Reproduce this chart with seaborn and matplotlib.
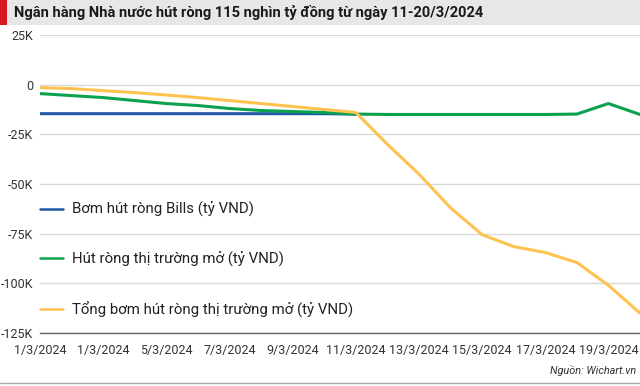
import numpy as np
import pandas as pd
import matplotlib
matplotlib.use('Agg')
import matplotlib.pyplot as plt
import seaborn as sns

# Data (ty VND); Bills series stops at 11/3
days = list(range(20))
tick_labels = ['1/3/2024', '1/3/2024', '5/3/2024', '7/3/2024', '9/3/2024',
               '11/3/2024', '13/3/2024', '15/3/2024', '17/3/2024', '19/3/2024']
bills = [-14600, -14600, -14600, -14600, -14600, -14600, -14600, -14600, -14600, -14600,
         -14800, np.nan, np.nan, np.nan, np.nan, np.nan, np.nan, np.nan, np.nan, np.nan]
open_market = [-4500, -5500, -6500, -8000, -9500, -10500, -12000, -13000, -13500, -14000,
               -14800, -15000, -15000, -15000, -15000, -15000, -15000, -14800, -9500, -15000]
total = [-1500, -2000, -3000, -4000, -5200, -6500, -8000, -9500, -11000, -12500,
         -14000, -30000, -45000, -62000, -75500, -81500, -84500, -89500, -101000, -115000]

series_names = ['Bơm hút ròng Bills (tỷ VND)',
                'Hút ròng thị trường mở (tỷ VND)',
                'Tổng bơm hút ròng thị trường mở (tỷ VND)']
colors = ['#1f57a3', '#0aa24e', '#fdc24f']

df = pd.DataFrame({
    'day': days * 3,
    'value': bills + open_market + total,
    'series': [series_names[0]] * 20 + [series_names[1]] * 20 + [series_names[2]] * 20,
})
df = df.dropna()

sns.set_theme(style='white')
plt.rcParams['font.family'] = ['Roboto', 'DejaVu Sans']

fig = plt.figure(figsize=(6.4, 3.86), dpi=100)
ax = fig.add_axes([0.0625, 0.1373, 0.9375, 0.772])

sns.lineplot(data=df, x='day', y='value', hue='series', palette=colors,
             hue_order=series_names, linewidth=2.2, ax=ax, legend=True)

ax.set_xlim(0, 19)
ax.set_ylim(-125000, 25000)
yticks = [25000, 0, -25000, -50000, -75000, -100000, -125000]
ax.set_yticks(yticks)
ax.set_yticklabels(['25K', '0', '-25K', '-50K', '-75K', '-100K', '-125K'])
ax.set_xticks(days[::2])
ax.set_xticklabels(tick_labels)
ax.tick_params(axis='both', length=0, labelsize=9, colors='#333333')
ax.tick_params(axis='x', pad=8)
ax.tick_params(axis='y', pad=5)
ax.set_xlabel('')
ax.set_ylabel('')
ax.grid(axis='y', color='#d9d9d9', linewidth=1)
ax.set_axisbelow(True)
for s in ['top', 'right', 'left']:
    ax.spines[s].set_visible(False)
ax.spines['bottom'].set_color('#666666')
ax.spines['bottom'].set_linewidth(1)

leg = ax.legend(loc='upper left', bbox_to_anchor=(0.0, 0.44), frameon=False,
                fontsize=10.8, labelspacing=2.3, handlelength=1.5, handletextpad=0.6,
                borderaxespad=0, borderpad=0)
for line in leg.get_lines():
    line.set_linewidth(1.8)
for t in leg.get_texts():
    t.set_color('#222222')

# title band
fig.patches.append(plt.Rectangle((0, 1 - 25 / 386), 1, 25 / 386, transform=fig.transFigure,
                                 facecolor='#e8e6e6', edgecolor='none', zorder=0))
fig.patches.append(plt.Rectangle((0, 1 - 25 / 386), 7 / 640, 25 / 386, transform=fig.transFigure,
                                 facecolor='#d71920', edgecolor='none', zorder=1))
fig.text(14 / 640, 1 - 12.5 / 386, 'Ngân hàng Nhà nước hút ròng 115 nghìn tỷ đồng từ ngày 11-20/3/2024',
         fontsize=10.5, fontweight='bold', color='#1a1a1a', va='center', ha='left')

fig.text(636 / 640, 1 - 371 / 386, 'Nguồn: Wichart.vn', fontsize=7.8, style='italic',
         color='#333333', ha='right', va='center')
fig.add_artist(plt.Line2D([0, 1], [1 - 383 / 386] * 2, transform=fig.transFigure,
                          color='#aaaaaa', linewidth=1))

fig.savefig('out.png', dpi=100)
